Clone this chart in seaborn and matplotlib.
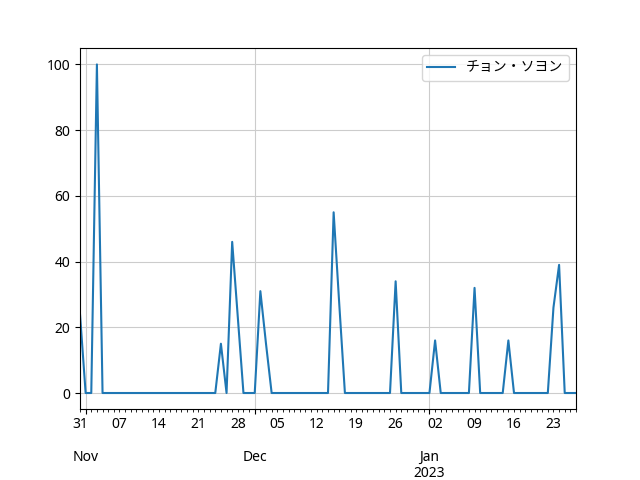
import pandas as pd
import matplotlib
matplotlib.use("Agg")
import matplotlib.pyplot as plt
import matplotlib.dates as mdates
from matplotlib.ticker import FuncFormatter
import seaborn as sns

plt.rcParams['font.family'] = ['Noto Sans', 'Noto Sans CJK JP', 'DejaVu Sans']

# === Data (daily interest) ===
start_date = "2022-10-31"
end_date = "2023-01-27"
series_name = "チョン・ソヨン"
values = [
    24, 0, 0, 100, 0, 0, 0, 0, 0, 0,
    0, 0, 0, 0, 0, 0, 0, 0, 0, 0,
    0, 0, 0, 0, 0, 15, 0, 46, 23, 0,
    0, 0, 31, 15, 0, 0, 0, 0, 0, 0,
    0, 0, 0, 0, 0, 55, 27, 0, 0, 0,
    0, 0, 0, 0, 0, 0, 34, 0, 0, 0,
    0, 0, 0, 16, 0, 0, 0, 0, 0, 0,
    32, 0, 0, 0, 0, 0, 16, 0, 0, 0,
    0, 0, 0, 0, 26, 39, 0, 0, 0,
]

dates = pd.date_range(start_date, end_date, freq="D")
df = pd.DataFrame({"date": dates, "value": values})

# === Plot ===
fig, ax = plt.subplots(figsize=(6.4, 4.8), dpi=100)
fig.subplots_adjust(left=0.125, right=0.9, top=0.9, bottom=0.147)

sns.lineplot(data=df, x="date", y="value", ax=ax, label=series_name,
             color="#1f77b4", linewidth=1.5)

ax.set_xlim(dates[0], dates[-1])
ax.set_xlabel("")
ax.set_ylabel("")


# pandas-like date ticks: months as major, days as minor, Mondays labelled
def major_fmt(x, pos):
    d = mdates.num2date(x)
    if d.month == 1:
        return d.strftime("\n\n%b\n%Y")
    return d.strftime("\n\n%b")


def minor_fmt(x, pos):
    d = mdates.num2date(x)
    if d.weekday() == 0 and d.day != 1:
        return d.strftime("%d")
    return ""


ax.xaxis.set_major_locator(mdates.MonthLocator())
ax.xaxis.set_major_formatter(FuncFormatter(major_fmt))
ax.xaxis.set_minor_locator(mdates.DayLocator())
ax.xaxis.set_minor_formatter(FuncFormatter(minor_fmt))

ax.grid(True, which="major", color="#cccccc", linewidth=0.8)
ax.legend(loc="upper right")

# tighter line spacing for the month/year labels
fig.canvas.draw()
for t in ax.xaxis.get_major_ticks():
    t.label1.set_linespacing(1.05)

plt.savefig("out.png")
plt.close()
